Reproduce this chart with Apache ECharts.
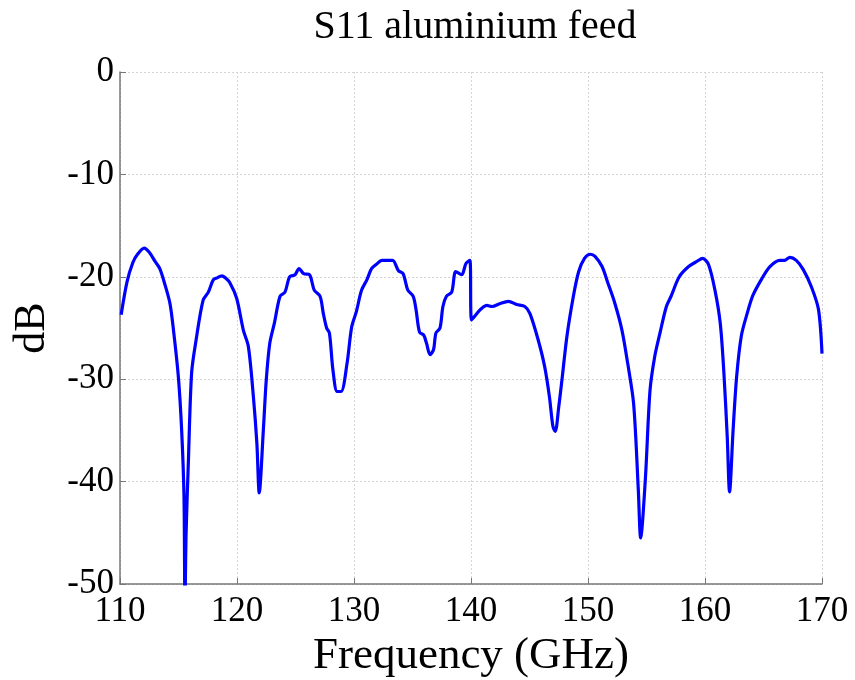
<!DOCTYPE html>
<html><head><meta charset="utf-8">
<script src="https://cdn.jsdelivr.net/npm/echarts@6/dist/echarts.min.js"></script>
<style>html,body{margin:0;padding:0;background:#fff}#c{width:855px;height:680px}</style>
</head><body><div id="c"></div>
<script>
const titleText = "S11 aluminium feed";
const xName = "Frequency (GHz)";
const yName = "dB";
const xTicks = [110,120,130,140,150,160,170];
const yTicks = [0,-10,-20,-30,-40,-50];
const freq = [110.1,110.6,111.1,111.5,112.07,112.5,113.0,113.4,113.8,114.27,114.6,114.99,115.27,115.47,115.55,115.65,115.84,116.12,116.5,117.1,117.55,117.97,118.3,118.7,119.0,119.4,119.97,120.54,120.97,121.4,121.7,121.9,122.25,122.5,122.8,123.2,123.68,124.1,124.5,124.96,125.3,125.7,126.2,126.6,127.1,127.38,127.66,127.9,128.2,128.56,128.9,129.4,129.8,130.2,130.65,131.1,131.5,131.9,132.4,132.8,133.3,133.8,134.2,134.6,135.06,135.3,135.6,135.96,136.2,136.5,136.8,137.0,137.35,137.6,137.9,138.35,138.7,139.2,139.57,139.9,140.05,140.5,140.8,141.35,141.8,142.5,143.2,143.9,144.6,145.04,145.75,146.3,146.7,147.0,147.2,147.5,147.8,148.2,148.75,149.2,149.7,150.2,150.6,151.2,151.7,152.3,152.9,153.4,153.9,154.3,154.5,154.9,155.3,155.7,156.15,156.7,157.1,157.8,158.6,159.3,159.8,160.3,160.85,161.3,161.6,161.9,162.1,162.4,162.7,163.1,163.6,164.1,164.85,165.55,166.4,166.8,167.26,167.8,168.4,169.1,169.7,170.0];
const s11 = [-23.7,-20.5,-18.6,-17.8,-17.2,-17.6,-18.5,-19.2,-20.6,-22.6,-25.5,-29.8,-35.0,-41.5,-52.0,-45.0,-38.2,-29.4,-26.2,-22.3,-21.5,-20.3,-20.1,-19.9,-20.1,-20.6,-22.1,-25.2,-26.8,-31.7,-36.3,-41.1,-35.0,-30.1,-26.5,-24.5,-21.9,-21.5,-20.0,-19.8,-19.2,-19.7,-19.8,-21.3,-21.9,-23.6,-25.0,-25.5,-29.1,-31.2,-31.2,-28.5,-24.9,-23.4,-21.3,-20.3,-19.2,-18.8,-18.4,-18.4,-18.4,-19.4,-19.7,-21.3,-21.9,-23.2,-25.4,-25.7,-26.5,-27.6,-27.1,-25.5,-25.0,-22.9,-21.9,-21.5,-19.5,-19.8,-18.7,-18.4,-24.2,-23.6,-23.2,-22.8,-22.9,-22.6,-22.4,-22.7,-22.9,-23.6,-26.2,-28.8,-31.7,-34.6,-35.1,-32.7,-29.8,-25.8,-21.9,-19.5,-18.2,-17.8,-18.0,-19.0,-20.6,-22.6,-25.2,-28.5,-32.4,-40.8,-45.5,-39.8,-31.1,-27.8,-25.5,-22.9,-21.9,-20.0,-19.0,-18.5,-18.2,-18.8,-21.3,-24.5,-29.1,-35.6,-41.0,-35.0,-29.8,-25.8,-23.6,-21.8,-20.2,-19.0,-18.4,-18.4,-18.1,-18.4,-19.3,-21.0,-23.2,-27.5];
const data = freq.map((f,i)=>[f,s11[i]]);
const font = "Liberation Serif";
const chart = echarts.init(document.getElementById('c'));
chart.setOption({
  animation:false,
  backgroundColor:'#fff',
  title:{text:titleText,left:470,top:2,textAlign:'center',textStyle:{fontFamily:font,fontSize:40,fontWeight:'normal',color:'#000'}},
  grid:{left:120,right:33,top:72,bottom:96,containLabel:false,outerBoundsMode:'none'},
  xAxis:{type:'value',min:110,max:170,interval:10,name:xName,nameLocation:'middle',nameGap:45,
    nameTextStyle:{fontFamily:font,fontSize:45,color:'#000'},
    axisLine:{show:true,onZero:false,lineStyle:{color:'#777',width:1.5}},
    axisTick:{show:true,inside:true,length:6,lineStyle:{color:'#777'}},
    axisLabel:{fontFamily:font,fontSize:35,color:'#000',margin:10,formatter:v=>xTicks.includes(v)?String(v):''},
    splitLine:{show:true,lineStyle:{color:'#d4d4d4',type:[2,2],width:1}}},
  yAxis:{type:'value',min:-50,max:0,interval:10,name:yName,nameLocation:'middle',nameGap:66,nameRotate:90,
    nameTextStyle:{fontFamily:font,fontSize:44,color:'#000'},
    axisLine:{show:true,onZero:false,lineStyle:{color:'#777',width:1.5}},
    axisTick:{show:true,inside:true,length:6,lineStyle:{color:'#777'}},
    axisLabel:{fontFamily:font,fontSize:35,color:'#000',margin:6,formatter:v=>yTicks.includes(v)?String(v):''},
    splitLine:{show:true,lineStyle:{color:'#d4d4d4',type:[2,2],width:1}}},
  series:[{type:'line',data:data,showSymbol:false,smooth:0.3,clip:true,lineStyle:{color:'#0000ff',width:3.2}}]
});
</script></body></html>
